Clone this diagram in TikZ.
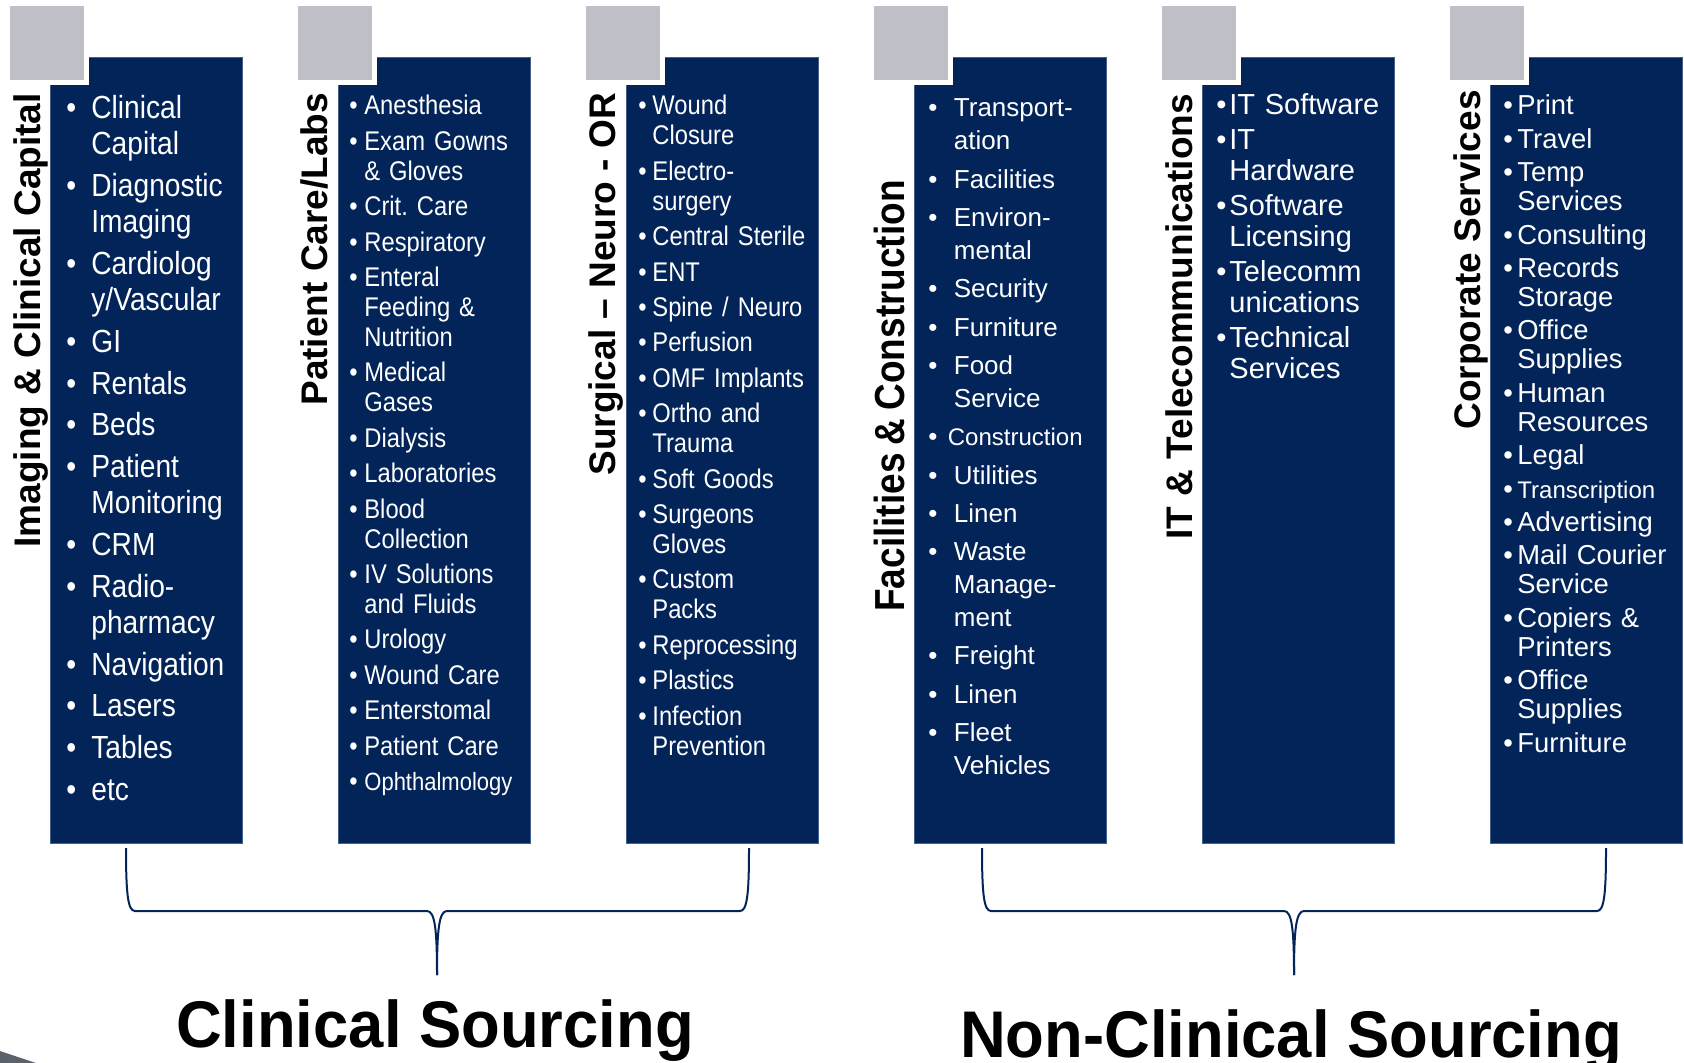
\documentclass[tikz,border=0pt]{standalone}
\usepackage{fontspec}
\setmainfont{Liberation Sans}
\newfontfamily\narrowfont[FakeStretch=0.88, WordSpace=0.8]{Liberation Sans}
\newfontfamily\groupfont[FakeStretch=0.96]{Liberation Sans}

\definecolor{navy}{RGB}{2,36,89}
\definecolor{tabgray}{RGB}{190,191,199}
\definecolor{edgeblue}{RGB}{70,95,140}
\definecolor{cornergray}{RGB}{92,98,106}

\newlength\bulletsep
\newlength\itemgap
\newcommand\bitem[1]{\noindent\hangindent=\bulletsep\hangafter=1%
  \makebox[\bulletsep][l]{\textbullet}{#1}\par\vspace{\itemgap}}

\begin{document}
\begin{tikzpicture}[x=0.5pt, y=-0.5pt,
  panel/.style={fill=navy, draw=edgeblue, line width=0.5pt},
  tab/.style={fill=tabgray},
  list/.style={anchor=base west, inner sep=0pt, text=white, text width=110pt, align=left},
  bsep/.code={\setlength\bulletsep{#1}},
  igap/.code={\setlength\itemgap{#1}},
  head/.style={rotate=90, anchor=base west, inner sep=0pt, font=\bfseries\fontsize{18.5}{22}\selectfont},
  brace/.style={draw=navy, line width=1pt},
  group/.style={anchor=base, inner sep=0pt, font=\groupfont\bfseries\fontsize{33}{40}\selectfont}]
  \useasboundingbox (0,0) rectangle (1684,1063);
  \clip (0,0) rectangle (1684,1063);

  % columns with their grey tabs
  \foreach \i in {0,...,5}{
    \fill[panel] ({50+288*\i},58) rectangle ++(192,785);
    \fill[white] ({5+288*\i},1) rectangle ++(84,84);
    \fill[tab] ({10+288*\i},6) rectangle ++(74,74);
  }

  % column headings
  \node[head] (H1) at (40,548) {Imaging \& Clinical Capital};
  \node[head] (H2) at (327,406) {Patient Care/Labs};
  \node[head] (H3) at (615,476) {Surgical – Neuro - OR};
  \node[head, font=\narrowfont\bfseries\fontsize{21}{25}\selectfont] (H4) at (904,612) {Facilities \& Construction};
  \node[head] (H5) at (1192,540) {IT \& Telecommunications};
  \node[head] (H6) at (1480,430) {Corporate Services};

  % item lists
  \node[list, bsep=12.5pt, igap=2.9pt, font=\narrowfont\fontsize{16}{18}\selectfont] (L1) at (66,119) {
    \bitem{Clinical\newline Capital}
    \bitem{Diagnostic\newline Imaging}
    \bitem{Cardiolog\newline y/Vascular}
    \bitem{GI}
    \bitem{Rentals}
    \bitem{Beds}
    \bitem{Patient\newline Monitoring}
    \bitem{CRM}
    \bitem{Radio-\newline pharmacy}
    \bitem{Navigation}
    \bitem{Lasers}
    \bitem{Tables}
    \bitem{etc}
  };
  \node[list, bsep=7.5pt, igap=2.7pt, font=\narrowfont\fontsize{13.5}{15}\selectfont] (L2) at (349,115) {
    \bitem{Anesthesia}
    \bitem{Exam Gowns\newline \& Gloves}
    \bitem{Crit.\ Care}
    \bitem{Respiratory}
    \bitem{Enteral\newline Feeding \&\newline Nutrition}
    \bitem{Medical\newline Gases}
    \bitem{Dialysis}
    \bitem{Laboratories}
    \bitem{Blood\newline Collection}
    \bitem{IV Solutions\newline and Fluids}
    \bitem{Urology}
    \bitem{Wound Care}
    \bitem{Enterstomal}
    \bitem{Patient Care}
    \bitem{\fontsize{12.5}{15}\selectfont Ophthalmology}
  };
  \node[list, bsep=7pt, igap=2.7pt, font=\narrowfont\fontsize{13.5}{15}\selectfont] (L3) at (638,115) {
    \bitem{Wound\newline Closure}
    \bitem{Electro-\newline surgery}
    \bitem{Central Sterile}
    \bitem{ENT}
    \bitem{Spine / Neuro}
    \bitem{Perfusion}
    \bitem{OMF Implants}
    \bitem{Ortho and\newline Trauma}
    \bitem{Soft Goods}
    \bitem{Surgeons\newline Gloves}
    \bitem{Custom\newline Packs}
    \bitem{Reprocessing}
    \bitem{Plastics}
    \bitem{Infection\newline Prevention}
  };
  \node[list, bsep=12.75pt, igap=2.8pt, font=\fontsize{13}{16.4}\selectfont] (L4) at (928,117) {
    \bitem{Transport-\newline ation}
    \bitem{Facilities}
    \bitem{Environ-\newline mental}
    \bitem{Security}
    \bitem{Furniture}
    \bitem{Food\newline Service}
    \bitem{\fontsize{12}{16.4}\selectfont\hspace{-3pt}Construction}
    \bitem{Utilities}
    \bitem{Linen}
    \bitem{Waste\newline Manage-\newline ment}
    \bitem{Freight}
    \bitem{Linen}
    \bitem{Fleet\newline Vehicles}
  };
  \node[list, bsep=6.5pt, igap=2pt, font=\fontsize{14.5}{15.5}\selectfont] (L5) at (1216,115) {
    \bitem{IT Software}
    \bitem{IT\newline Hardware}
    \bitem{Software\newline Licensing}
    \bitem{Telecomm\newline unications}
    \bitem{Technical\newline Services}
  };
  \node[list, bsep=7pt, igap=2.2pt, font=\fontsize{13.7}{14.5}\selectfont] (L6) at (1503,115) {
    \bitem{Print}
    \bitem{Travel}
    \bitem{Temp\newline Services}
    \bitem{Consulting}
    \bitem{Records\newline Storage}
    \bitem{Office\newline Supplies}
    \bitem{Human\newline Resources}
    \bitem{Legal}
    \bitem{\fontsize{12}{14.5}\selectfont Transcription}
    \bitem{Advertising}
    \bitem{Mail Courier\newline Service}
    \bitem{Copiers \&\newline Printers}
    \bitem{Office\newline Supplies}
    \bitem{Furniture}
  };

  % braces under the two groups
  \foreach \l/\m/\r in {126/437/749, 982/1294/1606}{
    \draw[brace] (\l,848) .. controls +(0,47) and +(-7,0) .. ({\l+9},911)
      -- ({\m-10},911) .. controls +(8,0) and +(0,-45) .. (\m,975);
    \draw[brace] (\r,848) .. controls +(0,47) and +(7,0) .. ({\r-9},911)
      -- ({\m+10},911) .. controls +(-8,0) and +(0,-45) .. (\m,975);
  }

  \node[group] (clin) at (435,1047) {Clinical Sourcing};
  \node[group] (nonclin) at (1291,1057) {Non-Clinical Sourcing};

  % corner of the slide
  \fill[cornergray] (0,1051) -- (36,1063) -- (0,1063) -- cycle;
\end{tikzpicture}
\end{document}
